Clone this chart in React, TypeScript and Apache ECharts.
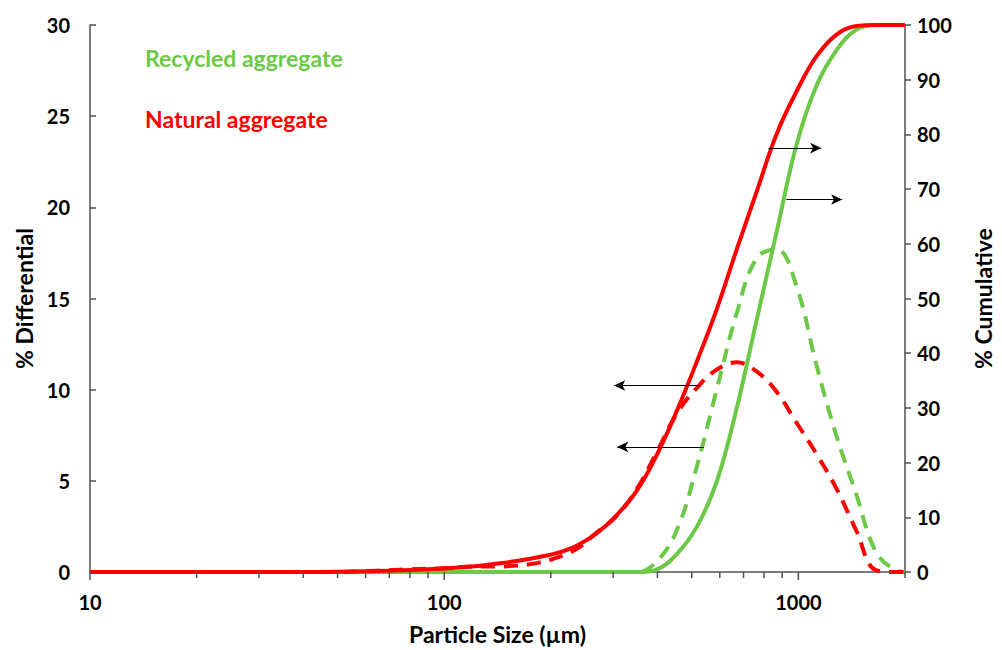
import React, { useEffect, useRef } from "react";
import * as echarts from "echarts";

// Particle sizes (µm) shared by every series
const sizes = [10, 20, 30, 40, 50, 60, 70, 80, 90, 100, 120, 140, 160, 184, 209, 238, 271, 308, 351, 399, 454, 517, 588, 670, 762, 867, 987, 1123, 1279, 1455, 1656, 1885, 2000];

// % Cumulative (right axis)
const naturalCumulative = [0, 0, 0, 0, 0.05, 0.15, 0.25, 0.35, 0.5, 0.65, 1.0, 1.5, 2.0, 2.7, 3.5, 4.9, 7.2, 10.5, 15, 21.5, 29.5, 38.5, 48, 59, 69.5, 80, 87.8, 94.2, 98.2, 99.8, 100, 100, 100];
const recycledCumulative = [0, 0, 0, 0, 0, 0, 0, 0, 0, 0, 0, 0, 0, 0, 0, 0, 0, 0, 0, 0.5, 3.3, 8.3, 16.5, 30, 46, 62, 78, 88.8, 95.3, 99.1, 100, 100, 100];

// % Differential (left axis)
const naturalDifferential = [0, 0, 0, 0, 0, 0.05, 0.1, 0.15, 0.18, 0.2, 0.3, 0.3, 0.35, 0.5, 0.8, 1.3, 2.2, 3.1, 4.6, 6.6, 8.7, 10.1, 11.1, 11.5, 11.0, 9.9, 8.2, 6.5, 4.6, 2.3, 0.1, 0, 0];
const recycledDifferential = [0, 0, 0, 0, 0, 0, 0, 0, 0, 0, 0, 0, 0, 0, 0, 0, 0, 0, 0, 0.6, 2.3, 5.8, 10.0, 14.2, 17.2, 17.7, 15.7, 11.4, 7.5, 4.3, 1.1, 0.1, 0];

// x-axis tick positions (µm)
const majorTicks = [10, 100, 1000];
const minorTicks = [20, 30, 40, 50, 60, 70, 80, 90, 200, 300, 400, 500, 600, 700, 800, 900, 2000];

// Annotation arrows: [fromX, fromY, toX, toY]
const arrowNaturalCum = [823, 77.5, 1160, 77.5];
const arrowRecycledCum = [925, 68.1, 1329, 68.1];
const arrowNaturalDiff = [527, 10.23, 302, 10.23];
const arrowRecycledDiff = [541, 6.86, 308, 6.86];

const GREEN = "#6CC947";
const RED = "#FF0000";
const AXIS = "#505050";
const FONT = "Lato";

function pairs(vals: number[]) {
  return sizes.map((s, i) => [s, vals[i]]);
}

function arrow(a: number[]) {
  return {
    silent: true,
    symbol: ["none", "arrow"],
    symbolSize: [8, 11],
    label: { show: false },
    lineStyle: { color: "#000", width: 1, type: "solid" },
    emphasis: { disabled: true },
    data: [[{ coord: [a[0], a[1]] }, { coord: [a[2], a[3]] }]],
  };
}

export default function App() {
  const ref = useRef<HTMLDivElement>(null);
  useEffect(() => {
    document.body.style.margin = "0";
    const chart = echarts.init(ref.current!, null, { renderer: "svg" });
    const tickLabel = { color: "#000", fontFamily: FONT, fontWeight: "bold", fontSize: 20 };
    const nameStyle = { color: "#000", fontFamily: FONT, fontWeight: "bold", fontSize: 23 };
    const tickData = [
      ...majorTicks.map((t) => [t, 8]),
      ...minorTicks.map((t) => [t, 6]),
    ];
    chart.setOption({
      animation: false,
      grid: { left: 90, right: 94, top: 25, bottom: 74, containLabel: false },
      xAxis: {
        type: "log",
        logBase: 10,
        min: 10,
        max: 2000,
        name: "Particle Size (µm)",
        nameLocation: "middle",
        nameGap: 50,
        nameTextStyle: nameStyle,
        axisLine: { show: true, lineStyle: { color: AXIS, width: 1.5 } },
        axisTick: { show: false },
        axisLabel: { ...tickLabel, margin: 20, showMaxLabel: false, formatter: (v: number) => String(Math.round(v)) },
        splitLine: { show: false },
      },
      yAxis: [
        {
          type: "value",
          min: 0,
          max: 30,
          interval: 5,
          name: "% Differential",
          nameLocation: "middle",
          nameRotate: 90,
          nameGap: 52,
          nameTextStyle: nameStyle,
          axisLine: { show: true, lineStyle: { color: AXIS, width: 1.5 } },
          axisTick: { show: true, inside: true, length: 6, lineStyle: { color: AXIS, width: 1.5 } },
          axisLabel: { ...tickLabel, margin: 20 },
          splitLine: { show: false },
        },
        {
          type: "value",
          min: 0,
          max: 100,
          interval: 10,
          position: "right",
          name: "% Cumulative",
          nameLocation: "middle",
          nameRotate: 90,
          nameGap: 66,
          nameTextStyle: nameStyle,
          axisLine: { show: true, lineStyle: { color: AXIS, width: 1.5 } },
          axisTick: { show: true, length: 6, lineStyle: { color: AXIS, width: 1.5 } },
          axisLabel: { ...tickLabel, margin: 12 },
          splitLine: { show: false },
        },
      ],
      series: [
        {
          name: "x ticks",
          type: "custom",
          xAxisIndex: 0,
          yAxisIndex: 0,
          clip: false,
          silent: true,
          z: 5,
          data: tickData,
          encode: { x: 0, y: -1 },
          renderItem: (params: any, api: any) => {
            const p = api.coord([api.value(0), 0]);
            const len = api.value(1);
            return {
              type: "line",
              shape: { x1: p[0], y1: p[1], x2: p[0], y2: p[1] + len },
              style: { stroke: AXIS, lineWidth: 1.5 },
            };
          },
        },
        {
          name: "Recycled cumulative",
          type: "line",
          yAxisIndex: 1,
          data: pairs(recycledCumulative),
          smooth: 0.4,
          symbol: "none",
          lineStyle: { color: GREEN, width: 4 },
          markLine: arrow(arrowRecycledCum),
        },
        {
          name: "Recycled differential",
          type: "line",
          yAxisIndex: 0,
          data: pairs(recycledDifferential),
          smooth: 0.4,
          symbol: "none",
          lineStyle: { color: GREEN, width: 4, type: [14, 9] },
          markLine: arrow(arrowRecycledDiff),
        },
        {
          name: "Natural differential",
          type: "line",
          yAxisIndex: 0,
          data: pairs(naturalDifferential),
          smooth: 0.4,
          symbol: "none",
          lineStyle: { color: RED, width: 4, type: [14, 9] },
          markLine: arrow(arrowNaturalDiff),
        },
        {
          name: "Natural cumulative",
          type: "line",
          yAxisIndex: 1,
          data: pairs(naturalCumulative),
          smooth: 0.4,
          symbol: "none",
          lineStyle: { color: RED, width: 4 },
          markLine: arrow(arrowNaturalCum),
        },
      ],
      graphic: [
        {
          type: "text",
          left: 145,
          top: 46,
          style: { text: "Recycled aggregate", fill: GREEN, font: `bold 23px ${FONT}` },
        },
        {
          type: "text",
          left: 145,
          top: 107,
          style: { text: "Natural aggregate", fill: RED, font: `bold 23px ${FONT}` },
        },
      ],
    });
    return () => chart.dispose();
  }, []);
  return <div ref={ref} style={{ width: 1002, height: 650 }} />;
}
